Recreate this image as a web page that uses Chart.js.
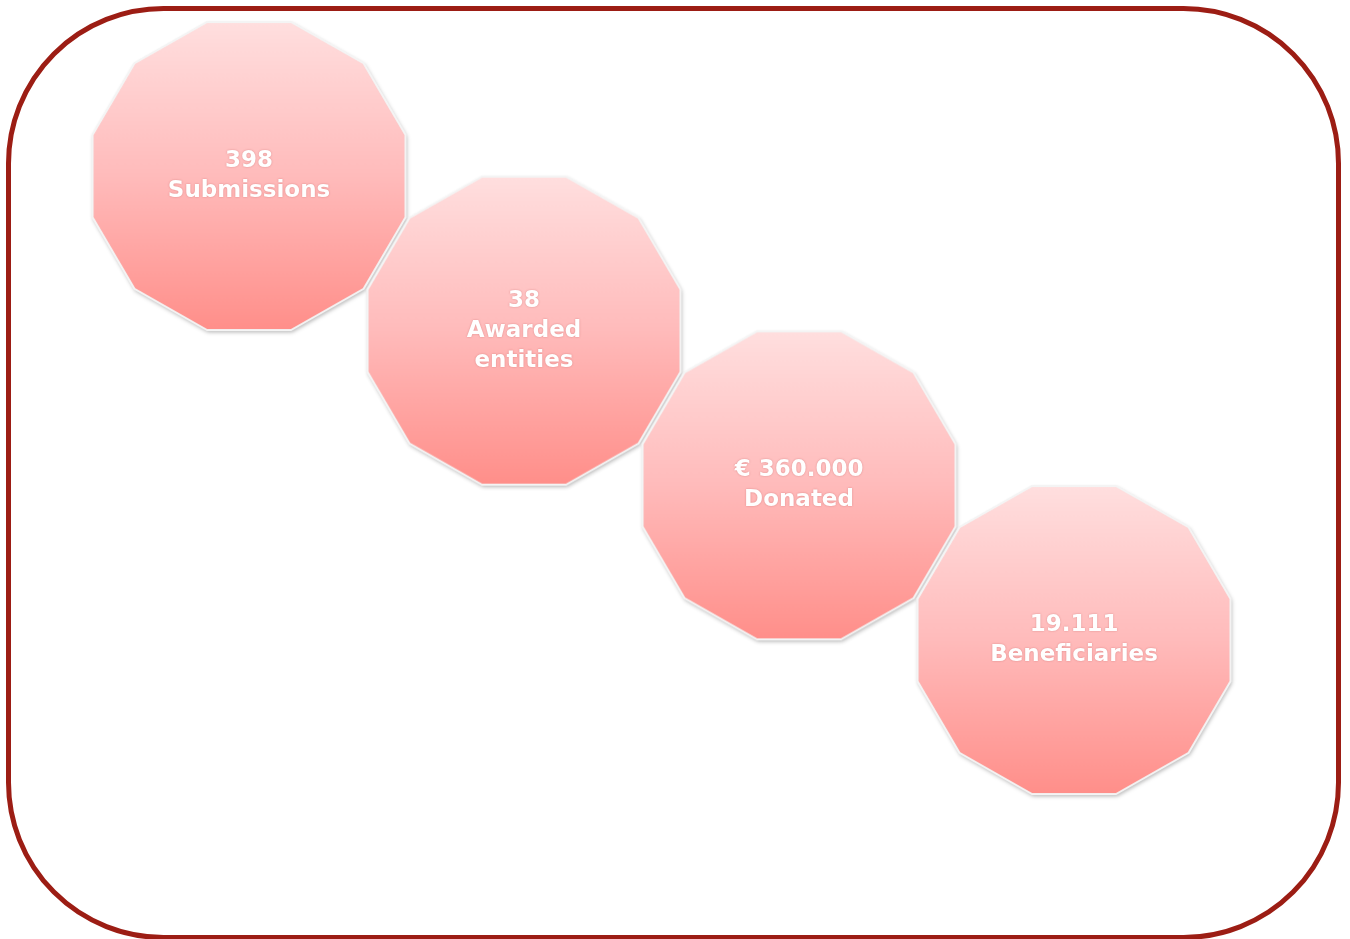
<!DOCTYPE html>
<html>
<head>
<meta charset="utf-8">
<script src="https://cdn.jsdelivr.net/npm/chart.js@4.4.1/dist/chart.umd.min.js"></script>
<style>
  html, body { margin: 0; padding: 0; background: #fff; }
  #chart { display: block; }
</style>
</head>
<body>
<canvas id="chart" width="1350" height="939"></canvas>
<script>
// steps of the infographic, one shape each, going down to the right
const steps = [0, 1, 2, 3];
const figures = ["398", "38", "€ 360.000", "19.111"];
const captions = [["Submissions"], ["Awarded", "entities"], ["Donated"], ["Beneficiaries"]];

// one dodecagon drawn once, reused as the point style
function makeShape() {
    const size = 350;
    const c = document.createElement("canvas");
    c.width = size;
    c.height = size;
    const g = c.getContext("2d");
    const cx = size / 2, cy = size / 2;
    const rx = 162, ry = 159.5;
    g.beginPath();
    for (let k = 0; k < 12; k++) {
        const a = (15 + 30 * k) * Math.PI / 180;
        const px = cx + rx * Math.cos(a);
        const py = cy + ry * Math.sin(a);
        if (k === 0) g.moveTo(px, py); else g.lineTo(px, py);
    }
    g.closePath();
    const grad = g.createLinearGradient(0, cy - ry, 0, cy + ry);
    grad.addColorStop(0, "#ffe0e0");
    grad.addColorStop(0.5, "#ffbbbb");
    grad.addColorStop(1, "#ff8d88");
    g.save();
    g.shadowColor = "rgba(0,0,0,0.32)";
    g.shadowBlur = 4;
    g.shadowOffsetX = 1;
    g.shadowOffsetY = 2;
    g.fillStyle = grad;
    g.fill();
    g.restore();
    g.lineWidth = 2;
    g.strokeStyle = "#f4f4f4";
    g.stroke();
    return c;
}

const shape = makeShape();

const frame = {
    id: "frame",
    beforeDraw(chart) {
        const ctx = chart.ctx;
        ctx.save();
        ctx.beginPath();
        ctx.roundRect(8.5, 8.5, 1330, 929, 155);
        ctx.lineWidth = 5;
        ctx.strokeStyle = "#9c1d14";
        ctx.stroke();
        ctx.restore();
    }
};

const labels = {
    id: "labels",
    afterDatasetsDraw(chart) {
        const ctx = chart.ctx;
        const meta = chart.getDatasetMeta(0);
        ctx.save();
        ctx.font = "bold 23px 'DejaVu Sans', Verdana, sans-serif";
        ctx.textAlign = "center";
        ctx.textBaseline = "middle";
        ctx.fillStyle = "#ffffff";
        ctx.shadowColor = "rgba(170,70,70,0.45)";
        ctx.shadowBlur = 2;
        meta.data.forEach((pt, i) => {
            const lines = [figures[i]].concat(captions[i]);
            const lh = 30;
            const top = pt.y - (lines.length - 1) * lh / 2;
            lines.forEach((t, j) => ctx.fillText(t, pt.x, top + j * lh));
        });
        ctx.restore();
    }
};

new Chart(document.getElementById("chart"), {
    type: "scatter",
    data: {
        datasets: [{
            data: steps.map(s => ({ x: s, y: s })),
            pointStyle: shape,
            pointRadius: 160,
            pointHoverRadius: 160,
            clip: false
        }]
    },
    options: {
        responsive: false,
        animation: false,
        events: [],
        layout: { padding: 0, autoPadding: false },
        plugins: { legend: { display: false }, tooltip: { enabled: false } },
        scales: {
            x: { display: false, min: -0.9055, max: 4.0036 },
            y: { display: false, reverse: true, min: -1.138, max: 4.933 }
        }
    },
    plugins: [frame, labels]
});
</script>
</body>
</html>
